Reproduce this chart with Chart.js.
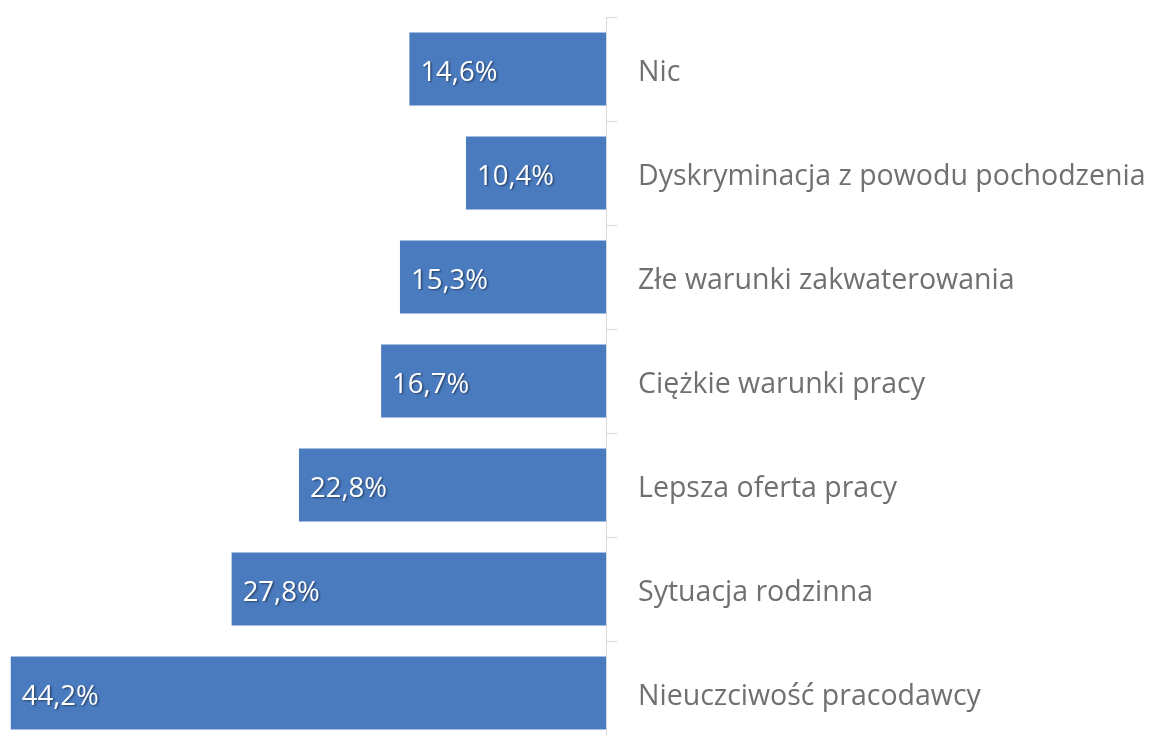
<!DOCTYPE html>
<html>
<head>
<meta charset="utf-8">
<script src="https://cdn.jsdelivr.net/npm/chart.js@4"></script>
<style>
    html, body { margin: 0; padding: 0; background: #fff; overflow: hidden; }
    #wrap { width: 1151px; height: 745px; }
</style>
</head>
<body>
<div id="wrap"><canvas id="chart"></canvas></div>
<script>
    "use strict";
    const categories = ["Nic", "Dyskryminacja z powodu pochodzenia", "Złe warunki zakwaterowania", "Ciężkie warunki pracy", "Lepsza oferta pracy", "Sytuacja rodzinna", "Nieuczciwość pracodawcy"];
    const values = [14.6, 10.4, 15.3, 16.7, 22.8, 27.8, 44.2];
    const valueLabels = ["14,6%", "10,4%", "15,3%", "16,7%", "22,8%", "27,8%", "44,2%"];

    const FONT = "'Open Sans', 'Noto Sans', sans-serif";

    const valueLabelPlugin = {
        id: "valueLabels",
        afterDatasetsDraw(chart) {
            const ctx = chart.ctx;
            const meta = chart.getDatasetMeta(0);
            ctx.save();
            ctx.font = "27.5px " + FONT;
            ctx.textBaseline = "middle";
            ctx.textAlign = "left";
            ctx.fillStyle = "#ffffff";
            ctx.shadowColor = "rgba(0,0,0,0.45)";
            ctx.shadowOffsetX = 1.5;
            ctx.shadowOffsetY = 1.5;
            ctx.shadowBlur = 2;
            meta.data.forEach((bar, i) => {
                const left = Math.min(bar.x, bar.base);
                ctx.fillText(valueLabels[i], left + 11, bar.y + 4);
            });
            ctx.restore();
        },
    };

    new Chart(document.getElementById("chart"), {
        type: "bar",
        data: {
            labels: categories,
            datasets: [{ data: values, backgroundColor: "#4a7bbf", barPercentage: 0.7, categoryPercentage: 1 }],
        },
        options: {
            indexAxis: "y",
            responsive: true,
            maintainAspectRatio: false,
            animation: false,
            layout: { padding: { top: 17, bottom: 0, left: 0, right: 0 } },
            plugins: { legend: { display: false }, tooltip: { enabled: false } },
            scales: {
                x: { reverse: true, min: 0, max: 45.0, display: false },
                y: {
                    position: "right",
                    afterFit: (scale) => {
                        scale.width = 545;
                        scale.paddingTop = 0;
                        scale.paddingBottom = 0;
                    },
                    border: { display: true, color: "#d9d9d9", width: 1 },
                    grid: { drawOnChartArea: false, tickLength: 11, color: "#d9d9d9", offset: true },
                    ticks: { color: "#707070", padding: 21, labelOffset: 4, crossAlign: "near", font: { family: FONT, size: 28.5 } },
                },
            },
        },
        plugins: [valueLabelPlugin],
    });
</script>
</body>
</html>
